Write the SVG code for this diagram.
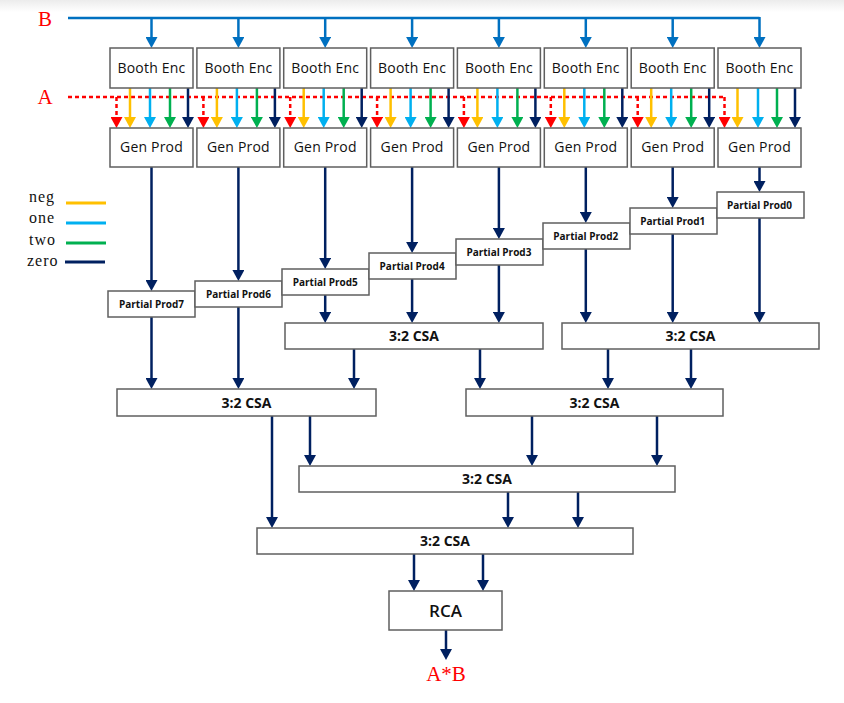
<svg xmlns="http://www.w3.org/2000/svg" width="844" height="703" viewBox="0 0 844 703">
<defs>
<linearGradient id="topfade" x1="0" y1="0" x2="0" y2="1">
<stop offset="0" stop-color="#ececec"/>
<stop offset="1" stop-color="#ffffff"/>
</linearGradient>
<marker id="mNavy" viewBox="0 0 11 12" refX="3" refY="6" markerWidth="11" markerHeight="12" markerUnits="userSpaceOnUse" orient="auto"><path d="M0,0 L11,6 L0,12 z" fill="#002060"/></marker>
<marker id="mBlue" viewBox="0 0 11 12" refX="3" refY="6" markerWidth="11" markerHeight="12" markerUnits="userSpaceOnUse" orient="auto"><path d="M0,0 L11,6 L0,12 z" fill="#0070C0"/></marker>
<marker id="mRed" viewBox="0 0 11 12" refX="3" refY="6" markerWidth="11" markerHeight="12" markerUnits="userSpaceOnUse" orient="auto"><path d="M0,0 L11,6 L0,12 z" fill="#FF0000"/></marker>
<marker id="mYel" viewBox="0 0 11 12" refX="3" refY="6" markerWidth="11" markerHeight="12" markerUnits="userSpaceOnUse" orient="auto"><path d="M0,0 L11,6 L0,12 z" fill="#FFC000"/></marker>
<marker id="mSky" viewBox="0 0 11 12" refX="3" refY="6" markerWidth="11" markerHeight="12" markerUnits="userSpaceOnUse" orient="auto"><path d="M0,0 L11,6 L0,12 z" fill="#00B0F0"/></marker>
<marker id="mGrn" viewBox="0 0 11 12" refX="3" refY="6" markerWidth="11" markerHeight="12" markerUnits="userSpaceOnUse" orient="auto"><path d="M0,0 L11,6 L0,12 z" fill="#00B050"/></marker>
</defs>
<style>
.box{fill:#ffffff;stroke:#5f5f5f;stroke-width:1.5}
.t{font-family:"Open Sans","Noto Sans","Liberation Sans",sans-serif;fill:#111;text-anchor:middle}
.enc{font-size:14px;letter-spacing:0.2px}
.pp{font-size:10px;font-weight:700}
.csa{font-size:14px;font-weight:700}
.rca{font-size:17px;font-weight:600}
.red{font-family:"Liberation Serif","Times New Roman",serif;fill:#FF0000;font-size:21px}
.leg{font-family:"Liberation Serif","Times New Roman",serif;fill:#111;font-size:16px;letter-spacing:1px}
.nv{stroke:#002060;stroke-width:2.5;fill:none;marker-end:url(#mNavy)}
.bl{stroke:#0070C0;stroke-width:2.5;fill:none}
.bla{stroke:#0070C0;stroke-width:2.5;fill:none;marker-end:url(#mBlue)}
.rd{stroke:#FF0000;stroke-width:2.5;fill:none;stroke-dasharray:4 3}
.rda{stroke:#FF0000;stroke-width:2.5;fill:none;stroke-dasharray:4 3;marker-end:url(#mRed)}
.ye{stroke:#FFC000;stroke-width:2.5;marker-end:url(#mYel)}
.sk{stroke:#00B0F0;stroke-width:2.5;marker-end:url(#mSky)}
.gr{stroke:#00B050;stroke-width:2.5;marker-end:url(#mGrn)}
.zr{stroke:#002060;stroke-width:2.5;marker-end:url(#mNavy)}
</style>
<rect x="0" y="0" width="844" height="703" fill="#ffffff"/>
<rect x="0" y="0" width="844" height="12" fill="url(#topfade)"/>

<!-- labels -->
<text class="red" x="45" y="26" text-anchor="middle">B</text>
<text class="red" x="45" y="104" text-anchor="middle">A</text>
<text class="red" x="446" y="681" text-anchor="middle">A*B</text>

<!-- legend -->
<g id="legend">
<text class="leg" x="29" y="202">neg</text>
<text class="leg" x="29" y="223">one</text>
<text class="leg" x="29" y="245">two</text>
<text class="leg" x="27" y="266">zero</text>
<line x1="66" y1="203" x2="106" y2="203" stroke="#FFC000" stroke-width="3"/>
<line x1="66" y1="223" x2="106" y2="223" stroke="#00B0F0" stroke-width="3"/>
<line x1="66" y1="243" x2="106" y2="243" stroke="#00B050" stroke-width="3"/>
<line x1="65" y1="262" x2="105" y2="262" stroke="#002060" stroke-width="3"/>
</g>

<!-- connectors -->
<g id="connectors">
<!-- B bus -->
<path class="bl" d="M68,18 H759.5"/>
<line class="bla" x1="151.5" y1="18" x2="151.5" y2="40"/>
<line class="bla" x1="238.4" y1="18" x2="238.4" y2="40"/>
<line class="bla" x1="325.2" y1="18" x2="325.2" y2="40"/>
<line class="bla" x1="412.1" y1="18" x2="412.1" y2="40"/>
<line class="bla" x1="498.9" y1="18" x2="498.9" y2="40"/>
<line class="bla" x1="585.8" y1="18" x2="585.8" y2="40"/>
<line class="bla" x1="672.7" y1="18" x2="672.7" y2="40"/>
<path class="bla" d="M759.5,17 V40"/>
<!-- A bus -->
<path class="rd" d="M68,97 H724.5"/>
<line class="rda" x1="116.5" y1="97" x2="116.5" y2="120"/>
<line class="rda" x1="203.4" y1="97" x2="203.4" y2="120"/>
<line class="rda" x1="290.2" y1="97" x2="290.2" y2="120"/>
<line class="rda" x1="377.1" y1="97" x2="377.1" y2="120"/>
<line class="rda" x1="463.9" y1="97" x2="463.9" y2="120"/>
<line class="rda" x1="550.8" y1="97" x2="550.8" y2="120"/>
<line class="rda" x1="637.7" y1="97" x2="637.7" y2="120"/>
<line class="rda" x1="724.5" y1="97" x2="724.5" y2="120"/>
<!-- booth signals -->
<g>
<line class="ye" x1="130" y1="88" x2="130" y2="120"/><line class="sk" x1="150" y1="88" x2="150" y2="120"/><line class="gr" x1="170" y1="88" x2="170" y2="120"/><line class="zr" x1="188" y1="88" x2="188" y2="120"/>
<line class="ye" x1="216.9" y1="88" x2="216.9" y2="120"/><line class="sk" x1="236.9" y1="88" x2="236.9" y2="120"/><line class="gr" x1="256.9" y1="88" x2="256.9" y2="120"/><line class="zr" x1="274.9" y1="88" x2="274.9" y2="120"/>
<line class="ye" x1="303.7" y1="88" x2="303.7" y2="120"/><line class="sk" x1="323.7" y1="88" x2="323.7" y2="120"/><line class="gr" x1="343.7" y1="88" x2="343.7" y2="120"/><line class="zr" x1="361.7" y1="88" x2="361.7" y2="120"/>
<line class="ye" x1="390.6" y1="88" x2="390.6" y2="120"/><line class="sk" x1="410.6" y1="88" x2="410.6" y2="120"/><line class="gr" x1="430.6" y1="88" x2="430.6" y2="120"/><line class="zr" x1="448.6" y1="88" x2="448.6" y2="120"/>
<line class="ye" x1="477.4" y1="88" x2="477.4" y2="120"/><line class="sk" x1="497.4" y1="88" x2="497.4" y2="120"/><line class="gr" x1="517.4" y1="88" x2="517.4" y2="120"/><line class="zr" x1="535.4" y1="88" x2="535.4" y2="120"/>
<line class="ye" x1="564.3" y1="88" x2="564.3" y2="120"/><line class="sk" x1="584.3" y1="88" x2="584.3" y2="120"/><line class="gr" x1="604.3" y1="88" x2="604.3" y2="120"/><line class="zr" x1="622.3" y1="88" x2="622.3" y2="120"/>
<line class="ye" x1="651.2" y1="88" x2="651.2" y2="120"/><line class="sk" x1="671.2" y1="88" x2="671.2" y2="120"/><line class="gr" x1="691.2" y1="88" x2="691.2" y2="120"/><line class="zr" x1="709.2" y1="88" x2="709.2" y2="120"/>
<line class="ye" x1="737.5" y1="88" x2="737.5" y2="120"/><line class="sk" x1="758" y1="88" x2="758" y2="120"/><line class="gr" x1="777" y1="88" x2="777" y2="120"/><line class="zr" x1="795" y1="88" x2="795" y2="120"/>
</g>
<!-- Gen Prod to Partial Prod -->
<line class="nv" x1="151.5" y1="167" x2="151.5" y2="283"/>
<line class="nv" x1="238.4" y1="167" x2="238.4" y2="273"/>
<line class="nv" x1="325.2" y1="167" x2="325.2" y2="261"/>
<line class="nv" x1="412.1" y1="167" x2="412.1" y2="245"/>
<line class="nv" x1="498.9" y1="167" x2="498.9" y2="231"/>
<line class="nv" x1="585.8" y1="167" x2="585.8" y2="215"/>
<line class="nv" x1="672.7" y1="167" x2="672.7" y2="200"/>
<line class="nv" x1="759.5" y1="167" x2="759.5" y2="184"/>
<!-- Partial Prod to CSA -->
<line class="nv" x1="151.5" y1="317" x2="151.5" y2="381"/>
<line class="nv" x1="238.4" y1="307" x2="238.4" y2="381"/>
<line class="nv" x1="325.2" y1="295" x2="325.2" y2="315"/>
<line class="nv" x1="412.1" y1="279" x2="412.1" y2="315"/>
<line class="nv" x1="498.9" y1="265" x2="498.9" y2="315"/>
<line class="nv" x1="585.8" y1="249" x2="585.8" y2="315"/>
<line class="nv" x1="672.7" y1="234" x2="672.7" y2="315"/>
<line class="nv" x1="759.5" y1="218" x2="759.5" y2="315"/>
<!-- CSA tree -->
<line class="nv" x1="354" y1="349" x2="354" y2="381"/>
<line class="nv" x1="480" y1="349" x2="480" y2="381"/>
<line class="nv" x1="608" y1="349" x2="608" y2="381"/>
<line class="nv" x1="691" y1="349" x2="691" y2="381"/>
<line class="nv" x1="272" y1="416" x2="272" y2="520"/>
<line class="nv" x1="310" y1="416" x2="310" y2="458"/>
<line class="nv" x1="532" y1="416" x2="532" y2="458"/>
<line class="nv" x1="657" y1="416" x2="657" y2="458"/>
<line class="nv" x1="508" y1="492" x2="508" y2="520"/>
<line class="nv" x1="578" y1="492" x2="578" y2="520"/>
<line class="nv" x1="414" y1="554" x2="414" y2="583"/>
<line class="nv" x1="483" y1="554" x2="483" y2="583"/>
<line class="nv" x1="446" y1="630" x2="446" y2="652"/>
</g>

<!-- Booth Enc -->
<g id="enc7"><rect class="box" x="110" y="48" width="83" height="40"/><text class="t enc" x="151.5" y="73">Booth Enc</text></g>
<g id="enc6"><rect class="box" x="196.9" y="48" width="83" height="40"/><text class="t enc" x="238.4" y="73">Booth Enc</text></g>
<g id="enc5"><rect class="box" x="283.7" y="48" width="83" height="40"/><text class="t enc" x="325.2" y="73">Booth Enc</text></g>
<g id="enc4"><rect class="box" x="370.6" y="48" width="83" height="40"/><text class="t enc" x="412.1" y="73">Booth Enc</text></g>
<g id="enc3"><rect class="box" x="457.4" y="48" width="83" height="40"/><text class="t enc" x="498.9" y="73">Booth Enc</text></g>
<g id="enc2"><rect class="box" x="544.3" y="48" width="83" height="40"/><text class="t enc" x="585.8" y="73">Booth Enc</text></g>
<g id="enc1"><rect class="box" x="631.2" y="48" width="83" height="40"/><text class="t enc" x="672.7" y="73">Booth Enc</text></g>
<g id="enc0"><rect class="box" x="718" y="48" width="83" height="40"/><text class="t enc" x="759.5" y="73">Booth Enc</text></g>

<!-- Gen Prod -->
<g id="gen7"><rect class="box" x="110" y="128" width="83" height="39"/><text class="t enc" x="151.5" y="152">Gen Prod</text></g>
<g id="gen6"><rect class="box" x="196.9" y="128" width="83" height="39"/><text class="t enc" x="238.4" y="152">Gen Prod</text></g>
<g id="gen5"><rect class="box" x="283.7" y="128" width="83" height="39"/><text class="t enc" x="325.2" y="152">Gen Prod</text></g>
<g id="gen4"><rect class="box" x="370.6" y="128" width="83" height="39"/><text class="t enc" x="412.1" y="152">Gen Prod</text></g>
<g id="gen3"><rect class="box" x="457.4" y="128" width="83" height="39"/><text class="t enc" x="498.9" y="152">Gen Prod</text></g>
<g id="gen2"><rect class="box" x="544.3" y="128" width="83" height="39"/><text class="t enc" x="585.8" y="152">Gen Prod</text></g>
<g id="gen1"><rect class="box" x="631.2" y="128" width="83" height="39"/><text class="t enc" x="672.7" y="152">Gen Prod</text></g>
<g id="gen0"><rect class="box" x="718" y="128" width="83" height="39"/><text class="t enc" x="759.5" y="152">Gen Prod</text></g>

<!-- Partial Prods -->
<g id="pp7"><rect class="box" x="108" y="291" width="87" height="26"/><text class="t pp" x="151.5" y="307.5">Partial Prod7</text></g>
<g id="pp6"><rect class="box" x="195" y="281" width="87" height="26"/><text class="t pp" x="238.4" y="297.5">Partial Prod6</text></g>
<g id="pp5"><rect class="box" x="282" y="269" width="87" height="26"/><text class="t pp" x="325.2" y="285.5">Partial Prod5</text></g>
<g id="pp4"><rect class="box" x="369" y="253" width="87" height="26"/><text class="t pp" x="412.1" y="269.5">Partial Prod4</text></g>
<g id="pp3"><rect class="box" x="456" y="239" width="87" height="26"/><text class="t pp" x="498.9" y="255.5">Partial Prod3</text></g>
<g id="pp2"><rect class="box" x="543" y="223" width="87" height="26"/><text class="t pp" x="585.8" y="239.5">Partial Prod2</text></g>
<g id="pp1"><rect class="box" x="630" y="208" width="87" height="26"/><text class="t pp" x="672.7" y="224.5">Partial Prod1</text></g>
<g id="pp0"><rect class="box" x="717" y="192" width="87" height="26"/><text class="t pp" x="759.5" y="208.5">Partial Prod0</text></g>

<!-- CSAs -->
<g id="csa1a"><rect class="box" x="285" y="323" width="258" height="26"/><text class="t csa" x="414" y="341">3:2 CSA</text></g>
<g id="csa1b"><rect class="box" x="562" y="323" width="257" height="26"/><text class="t csa" x="690.5" y="341">3:2 CSA</text></g>
<g id="csa2a"><rect class="box" x="117" y="389" width="259" height="27"/><text class="t csa" x="246.5" y="407.5">3:2 CSA</text></g>
<g id="csa2b"><rect class="box" x="466" y="389" width="257" height="27"/><text class="t csa" x="594.5" y="407.5">3:2 CSA</text></g>
<g id="csa3"><rect class="box" x="299" y="466" width="376" height="26"/><text class="t csa" x="487" y="484">3:2 CSA</text></g>
<g id="csa4"><rect class="box" x="257" y="528" width="376" height="26"/><text class="t csa" x="445" y="546">3:2 CSA</text></g>
<g id="rca"><rect class="box" x="389" y="591" width="113" height="39"/><text class="t rca" x="445.5" y="616.5">RCA</text></g>
</svg>
